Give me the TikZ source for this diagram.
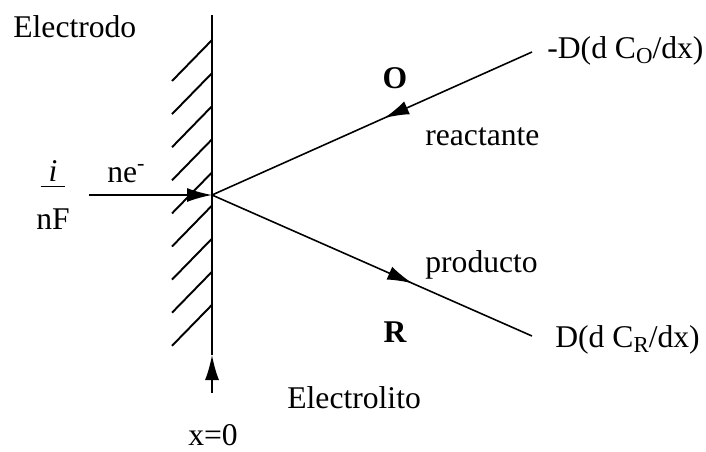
\documentclass[tikz,border=0pt]{standalone}
\usepackage{fontspec}
\setmainfont{Liberation Serif}
\usetikzlibrary{arrows.meta,decorations.markings}

\newcommand{\sbs}[1]{\raisebox{-.4ex}{\fontsize{13}{13}\selectfont #1}}

\begin{document}
\begin{tikzpicture}[
  x=0.02cm,y=-0.02cm,
  >={Latex[length=5mm,width=2.8mm]},
  font=\fontsize{18}{21}\selectfont,
  edgeline/.style={line width=.9pt,draw=black},
  hatch/.style={line width=1.1pt,draw=black},
  flux/.style={edgeline,->},
  lbl/.style={inner sep=0pt,anchor=base west},
  species/.style={inner sep=0pt,anchor=base},
  midarrow/.style={postaction={decorate},
    decoration={markings,
      mark=at position #1 with {\arrow{Latex[length=5mm,width=2.8mm]}}}}
]

\useasboundingbox (0,0) rectangle (706,451);

\coordinate (top) at (212,15);
\coordinate (orig) at (212,195);
\coordinate (xtip) at (212,355);
\coordinate (xtail) at (212,393);
\coordinate (etail) at (89,195);
\coordinate (oend) at (532,52);
\coordinate (rend) at (532,336);

% electrode wall
\draw[edgeline] (top) -- (xtip);
\foreach \k in {0,...,8}
  \draw[hatch] (172,{81+33.1*\k}) -- (212,{40+33.1*\k});

% fluxes
\draw[flux] (etail) -- (orig);
\draw[flux] (xtail) -- (xtip);
\draw[edgeline,midarrow=.462] (oend) -- (orig);
\draw[edgeline,midarrow=.626] (orig) -- (rend);

% labels
\node[lbl] (electrodo) at (13,37) {Electrodo};
\node[lbl] (ne) at (107,182) {ne\textsuperscript{-}};
\node[align=center,inner sep=0pt] (frac) at (53,195)
  {\textit{i}\\[-0.62cm]\rule{0.5cm}{.8pt}\\[0.1cm]nF};
\node[species] (o) at (395,88) {\bfseries O};
\node[lbl] (reactante) at (425,145) {reactante};
\node[lbl] (producto) at (425,272) {producto};
\node[species] (r) at (395,342) {\bfseries R};
\node[lbl] (dco) at (547,58) {-D(d C\sbs{O}/dx)};
\node[lbl] (dcr) at (555,347) {D(d C\sbs{R}/dx)};
\node[lbl] (electrolito) at (287,408) {Electrolito};
\node[species] (xzero) at (213,445) {x=0};

\end{tikzpicture}
\end{document}
